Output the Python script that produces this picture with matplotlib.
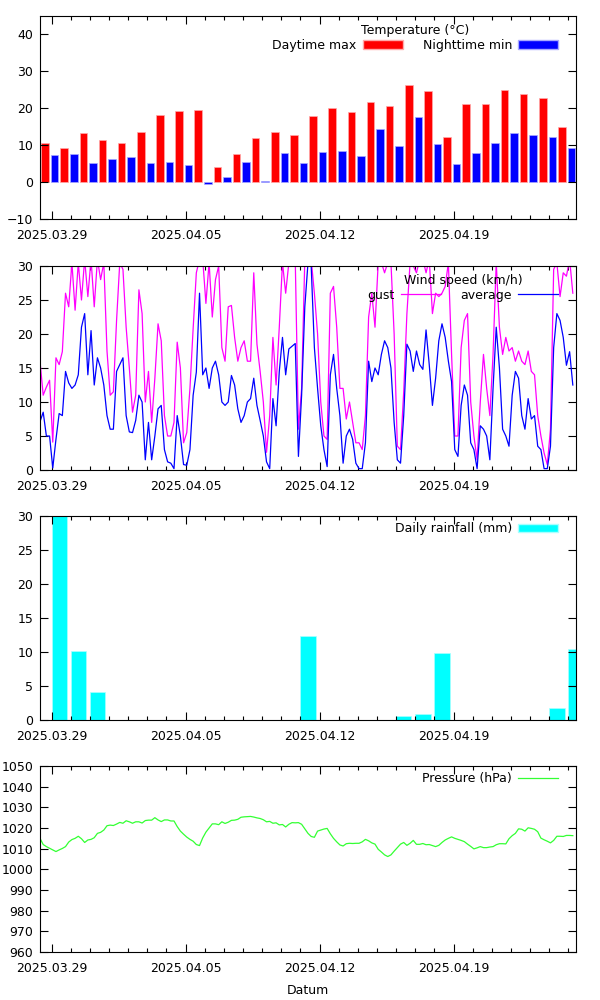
import pandas as pd
import matplotlib
matplotlib.use('Agg')
import matplotlib.pyplot as plt
import matplotlib.dates as mdates
from matplotlib.patches import Patch
from matplotlib.lines import Line2D

plt.rcParams['font.family'] = ['DejaVu Sans']
plt.rcParams['font.size'] = 9

# daily values (one per day, 2025-03-29 .. 2025-04-25)
days = pd.date_range('2025-03-29', '2025-04-25', freq='D')
t_max = [10.7, 9.2, 13.3, 11.3, 10.5, 13.6, 18.3, 19.3, 19.5, 4.2, 7.6, 12.0, 13.5, 12.7,
         17.8, 20.0, 19.0, 21.7, 20.5, 26.2, 24.7, 12.1, 21.1, 21.2, 25.0, 23.9, 22.7, 14.9]
t_min = [7.3, 7.6, 5.3, 6.3, 6.7, 5.1, 5.5, 4.7, -0.4, 1.4, 5.5, 0.3, 7.8, 5.3,
         8.2, 8.3, 7.1, 14.3, 9.8, 17.7, 10.3, 5.0, 7.9, 10.7, 13.2, 12.7, 12.3, 9.2]

rain_days = ['2025-03-29', '2025-03-30', '2025-03-31', '2025-04-11', '2025-04-16',
             '2025-04-17', '2025-04-18', '2025-04-24', '2025-04-25']
rain_mm = [36.0, 10.2, 4.1, 12.3, 0.6, 0.9, 9.9, 1.8, 10.5]

# 4-hourly readings starting 2025-03-28 09:30
gust = [16.0, 11.0, 12.2, 13.2, 4.1, 16.5, 15.5, 17.4, 26.0, 24.0, 30.5, 23.5, 30.5, 25.0,
        31, 25.5, 31, 24.0, 31, 28, 30.5, 17.5, 11.0, 11.5, 22, 30.5, 29.5, 21, 15.0, 8.5,
        11.0, 26.5, 23.0, 10.0, 14.5, 7.0, 13.5, 21.5, 19.0, 8.0, 5.0, 5.0,
        7.0, 18.8, 15.0, 4.0, 5.5, 12.0, 20.8, 29.0, 31, 31, 24.5, 30.5, 22.5, 28, 30, 18,
        16, 24, 24.2, 19.5, 16, 18, 19, 16, 16, 29, 18.5, 14.5, 10, 2.6, 8, 19.5, 12.5, 21,
        30.5, 26, 30.5, 31, 31, 6.0, 12,
        31, 31, 31, 26, 20, 10, 5, 4.5, 26, 27, 21, 12, 12, 7.5, 10, 7, 4, 4, 3, 8, 22.5,
        26, 21, 30.5, 30.5, 29, 30.5, 30.5, 20, 3.5, 3, 11.5, 23, 30.5, 30, 29, 31, 31, 29,
        31, 23, 26,
        25.5, 26, 27, 30.5, 17, 5, 5, 18, 22, 23, 10, 5, 1.5, 10, 17, 12, 8, 17, 30.5, 21,
        17, 19.5, 17.5, 18, 16, 17.5, 16, 15.5, 17.5, 14.5, 14, 8, 5, 2.5, 0.8, 6, 29.5,
        30.5, 25.5, 29, 28.5, 31, 26]
average = [7.1, 8.5, 5.0, 5.0, 0.3, 4.5, 8.3, 8.0, 14.5, 12.8, 12.0, 12.5, 14.0, 21.0,
           23.0, 14.0, 20.5, 12.5, 16.5, 15.0, 12.5, 8.0, 6.0, 6.0, 14.5, 15.5, 16.5, 8.0,
           5.6, 5.5, 7.3, 11.0, 10.0, 1.5, 7.0, 1.5, 5.0, 9.0, 9.5, 3.0, 1.2, 1.0,
           0.2, 8.0, 5.0, 0.8, 0.7, 3.0, 11.0, 14.4, 26.0, 14.0, 15.0, 12.0, 15.0, 16.0,
           14.0, 10.0, 9.5, 10.0, 13.9, 12.5, 9.0, 7.0, 8.0, 10.0, 10.5, 13.5, 9.5, 7.3,
           5.0, 1.2, 0.2, 10.5, 6.5, 14.5, 19.5, 14.0, 17.8, 18.2, 18.6, 2.0, 11.0,
           24, 30.5, 30, 18, 12, 6.5, 3.0, 0.5, 14, 17, 12, 8, 1.0, 5, 6, 4.5, 1, 0.2, 0.2,
           4, 16, 13, 15, 14, 17, 19, 18, 15, 7, 1.5, 1.0, 8, 18.5, 17.5, 14.5, 17.5, 15.5,
           14.8, 20.6, 15.5, 9.5, 13.5,
           19, 21.5, 19.5, 16, 13, 3, 2, 9.5, 12.5, 11, 4, 3, 0.2, 6.5, 6, 5, 1.5, 12, 21,
           15, 6, 5, 3.5, 11, 14.5, 13.5, 8, 6, 10.5, 7.5, 8, 3.5, 3, 0.2, 0.2, 3.5, 18, 23,
           22, 19.5, 15.4, 17.4, 12.5]
pressure = [1015.0, 1012.0, 1011.0, 1010.2, 1009.4, 1008.6, 1009.4, 1010.1, 1011.0, 1013.2,
            1014.4, 1015.0, 1016.0, 1014.8, 1013.0, 1014.2, 1014.5, 1015.3, 1017.4, 1017.9,
            1019.0, 1021.1, 1021.4, 1021.2, 1021.9, 1022.7, 1022.3, 1023.5, 1023.0, 1022.3,
            1023.0, 1023.0, 1022.4, 1023.6, 1023.8, 1023.8, 1025.0, 1023.9, 1023.1, 1023.9,
            1023.9, 1023.4, 1023.4, 1020.7, 1018.5, 1017.0, 1015.6, 1014.5, 1013.6, 1012.0,
            1011.5, 1015.2, 1018.0, 1020.0, 1022.0, 1022.0, 1021.6, 1023.0, 1022.2, 1022.8,
            1023.7, 1023.8, 1024.2, 1025.2, 1025.4, 1025.5, 1025.6, 1025.3, 1024.9, 1024.6,
            1024.0, 1023.0, 1023.2, 1022.3, 1022.5, 1021.5, 1021.7, 1020.5, 1021.8, 1022.6,
            1022.5, 1022.6, 1021.8, 1019.6, 1017.4,
            1015.9, 1015.5, 1018.5, 1019.0, 1019.5, 1019.8, 1017.2, 1015.0, 1013.3, 1011.8,
            1011.3, 1012.4, 1012.6, 1012.5, 1012.6, 1012.6, 1013.3, 1014.5, 1013.8, 1012.8,
            1012.2, 1009.7, 1008.4, 1007.0, 1006.2, 1007.0, 1008.8, 1010.5, 1012.2, 1013.0,
            1011.6, 1012.6, 1014.0, 1012.1, 1012.1, 1012.5, 1011.9, 1012.0, 1011.5, 1011.0,
            1011.6, 1013.0, 1014.2, 1015.0, 1015.7, 1015.0, 1014.5, 1014.0, 1013.4, 1012.2,
            1011.1, 1009.9, 1010.4, 1011.0, 1010.5, 1010.5, 1010.8, 1011.0, 1011.9, 1012.4,
            1012.4, 1012.3, 1014.8, 1016.3, 1017.4, 1019.6, 1019.4, 1018.5, 1020.1, 1019.8,
            1019.4, 1018.2, 1015.1, 1014.3, 1013.6, 1012.8, 1014.0, 1016.0, 1016.0, 1015.9,
            1016.4, 1016.4, 1016.3]
times = pd.date_range('2025-03-28 09:30', periods=len(pressure), freq='4h')

x_start = pd.Timestamp('2025-03-28 09:30')
x_end = pd.Timestamp('2025-04-25 09:30')
major_days = pd.date_range('2025-03-29', periods=4, freq='7D')

d = mdates.date2num(days.to_pydatetime())
t = mdates.date2num(times.to_pydatetime())
r = mdates.date2num(pd.to_datetime(rain_days).to_pydatetime())

fig = plt.figure(figsize=(6, 10), dpi=100)
W = 536 / 600
ax1 = fig.add_axes([40 / 600, 1 - 219 / 1000, W, 203 / 1000])
ax2 = fig.add_axes([40 / 600, 1 - 470 / 1000, W, 204 / 1000])
ax3 = fig.add_axes([40 / 600, 1 - 720 / 1000, W, 204 / 1000])
ax4 = fig.add_axes([40 / 600, 1 - 952 / 1000, W, 186 / 1000])


def style(ax):
    ax.set_xlim(mdates.date2num(x_start), mdates.date2num(x_end))
    ax.set_xticks(mdates.date2num(major_days.to_pydatetime()))
    ax.xaxis.set_major_formatter(mdates.DateFormatter('%Y.%m.%d'))
    ax.xaxis.set_minor_locator(mdates.DayLocator())
    ax.tick_params(which='both', direction='in', top=True, right=True, labelsize=9,
                   width=0.8, colors='black')
    ax.tick_params(which='major', length=6)
    ax.tick_params(axis='x', which='major', pad=7)
    ax.tick_params(axis='y', which='major', pad=5)
    ax.tick_params(which='minor', length=3)
    for s in ax.spines.values():
        s.set_linewidth(0.8)


def key(ax, handles, labels, title=None, ncol=1, y=0.99):
    leg = ax.legend(handles, labels, title=title, ncol=ncol, loc='upper right',
                    bbox_to_anchor=(0.979, y), frameon=False, markerfirst=False,
                    fontsize=9, title_fontsize=9, handlelength=3.2, handleheight=0.7,
                    handletextpad=0.5, columnspacing=1.6, borderpad=0, labelspacing=0.3)
    leg._legend_box.sep = 1


# temperature
ax1.bar(d - 0.34, t_max, width=0.4, color='#ff0000', edgecolor='#ffaaaa', linewidth=0.5)
ax1.bar(d + 0.16, t_min, width=0.4, color='#0000ff', edgecolor='#aaaaff', linewidth=0.5)
ax1.set_ylim(-10, 45)
ax1.set_yticks(range(-10, 41, 10))
style(ax1)
key(ax1, [Patch(facecolor='#ff0000', edgecolor='#ffaaaa'),
          Patch(facecolor='#0000ff', edgecolor='#aaaaff')],
    ['Daytime max', 'Nighttime min'], title='Temperature (°C)', ncol=2, y=0.99)

# wind
ax2.plot(t, gust, color='#ff00ff', lw=0.9)
ax2.plot(t, average, color='#0000ff', lw=0.9)
ax2.set_ylim(0, 30)
ax2.set_yticks(range(0, 31, 5))
style(ax2)
key(ax2, [Line2D([], [], color='#ff00ff', lw=0.9), Line2D([], [], color='#0000ff', lw=0.9)],
    ['gust', 'average'], title='Wind speed (km/h)', ncol=2, y=0.99)

# rainfall
ax3.bar(r, rain_mm, width=0.8, align='edge', color='#00ffff', edgecolor='#aaffff',
        linewidth=0.5)
ax3.set_ylim(0, 30)
ax3.set_yticks(range(0, 31, 5))
style(ax3)
key(ax3, [Patch(facecolor='#00ffff', edgecolor='#aaffff')], ['Daily rainfall (mm)'], y=1.0)

# pressure
ax4.plot(t, pressure, color='#33ff33', lw=0.9)
ax4.set_ylim(960, 1050)
ax4.set_yticks(range(960, 1051, 10))
style(ax4)
ax4.set_xlabel('Datum', fontsize=9, labelpad=7)
key(ax4, [Line2D([], [], color='#33ff33', lw=0.9)], ['Pressure (hPa)'], y=1.0)

fig.savefig('out.png', dpi=100)
